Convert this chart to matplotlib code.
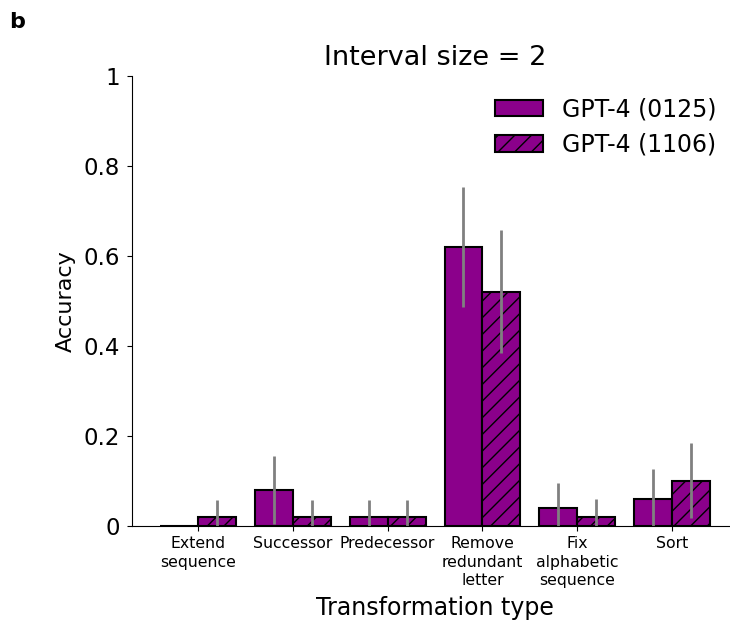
import matplotlib.pyplot as plt
import numpy as np

# data
categories = ["Extend\nsequence", "Successor", "Predecessor", "Remove\nredundant\nletter",
              "Fix\nalphabetic\nsequence", "Sort"]
acc_0125 = [0.0, 0.08, 0.02, 0.62, 0.04, 0.06]
acc_1106 = [0.02, 0.02, 0.02, 0.52, 0.02, 0.10]
# confidence interval bounds
lo_0125 = [0.0, 0.006, 0.0, 0.487, 0.0, 0.0]
hi_0125 = [0.0, 0.155, 0.059, 0.754, 0.095, 0.126]
lo_1106 = [0.0, 0.0, 0.0, 0.384, 0.0, 0.018]
hi_1106 = [0.059, 0.059, 0.059, 0.658, 0.06, 0.184]
yticks = [0, 0.2, 0.4, 0.6, 0.8, 1]
ytick_labels = ["0", "0.2", "0.4", "0.6", "0.8", "1"]

purple = "#8B008B"
w = 0.4
x = np.arange(len(categories))

fig = plt.figure(figsize=(7.3, 6.22), dpi=100)
# axes runs a little past the right edge of the figure (as in the original crop)
ax = fig.add_axes([0.181, 0.154, 0.829, 0.724])

a1 = np.array(acc_0125)
a2 = np.array(acc_1106)
err1 = [a1 - np.array(lo_0125), np.array(hi_0125) - a1]
err2 = [a2 - np.array(lo_1106), np.array(hi_1106) - a2]

ax.bar(x - w / 2, a1, w, color=purple, edgecolor="black", linewidth=1.5,
       label="GPT-4 (0125)")
ax.bar(x + w / 2, a2, w, color=purple, edgecolor="black", linewidth=1.5,
       hatch="//", label="GPT-4 (1106)")
ax.errorbar(x - w / 2, a1, yerr=err1, fmt="none", ecolor="gray", elinewidth=2)
ax.errorbar(x + w / 2, a2, yerr=err2, fmt="none", ecolor="gray", elinewidth=2)

ax.set_xlim(-0.697, 5.69)
ax.set_ylim(0, 1)
ax.set_yticks(yticks)
ax.set_yticklabels(ytick_labels, fontsize=16.5)
ax.tick_params(axis="y", pad=5)
ax.set_xticks(x)
ax.set_xticklabels(categories, fontsize=11.3, linespacing=1.3)
ax.spines["top"].set_visible(False)
ax.spines["right"].set_visible(False)
ax.set_ylabel("Accuracy", fontsize=16, labelpad=6)
ax.set_xlabel("Transformation type", fontsize=17, labelpad=6)
ax.set_title("Interval size = 2", fontsize=19.5, pad=8)
ax.legend(fontsize=17, frameon=False, loc="upper right", bbox_to_anchor=(1.0, 1.0))

fig.text(0.012, 0.955, "b", fontsize=16, fontweight="bold")

fig.savefig("out.png", dpi=100)
